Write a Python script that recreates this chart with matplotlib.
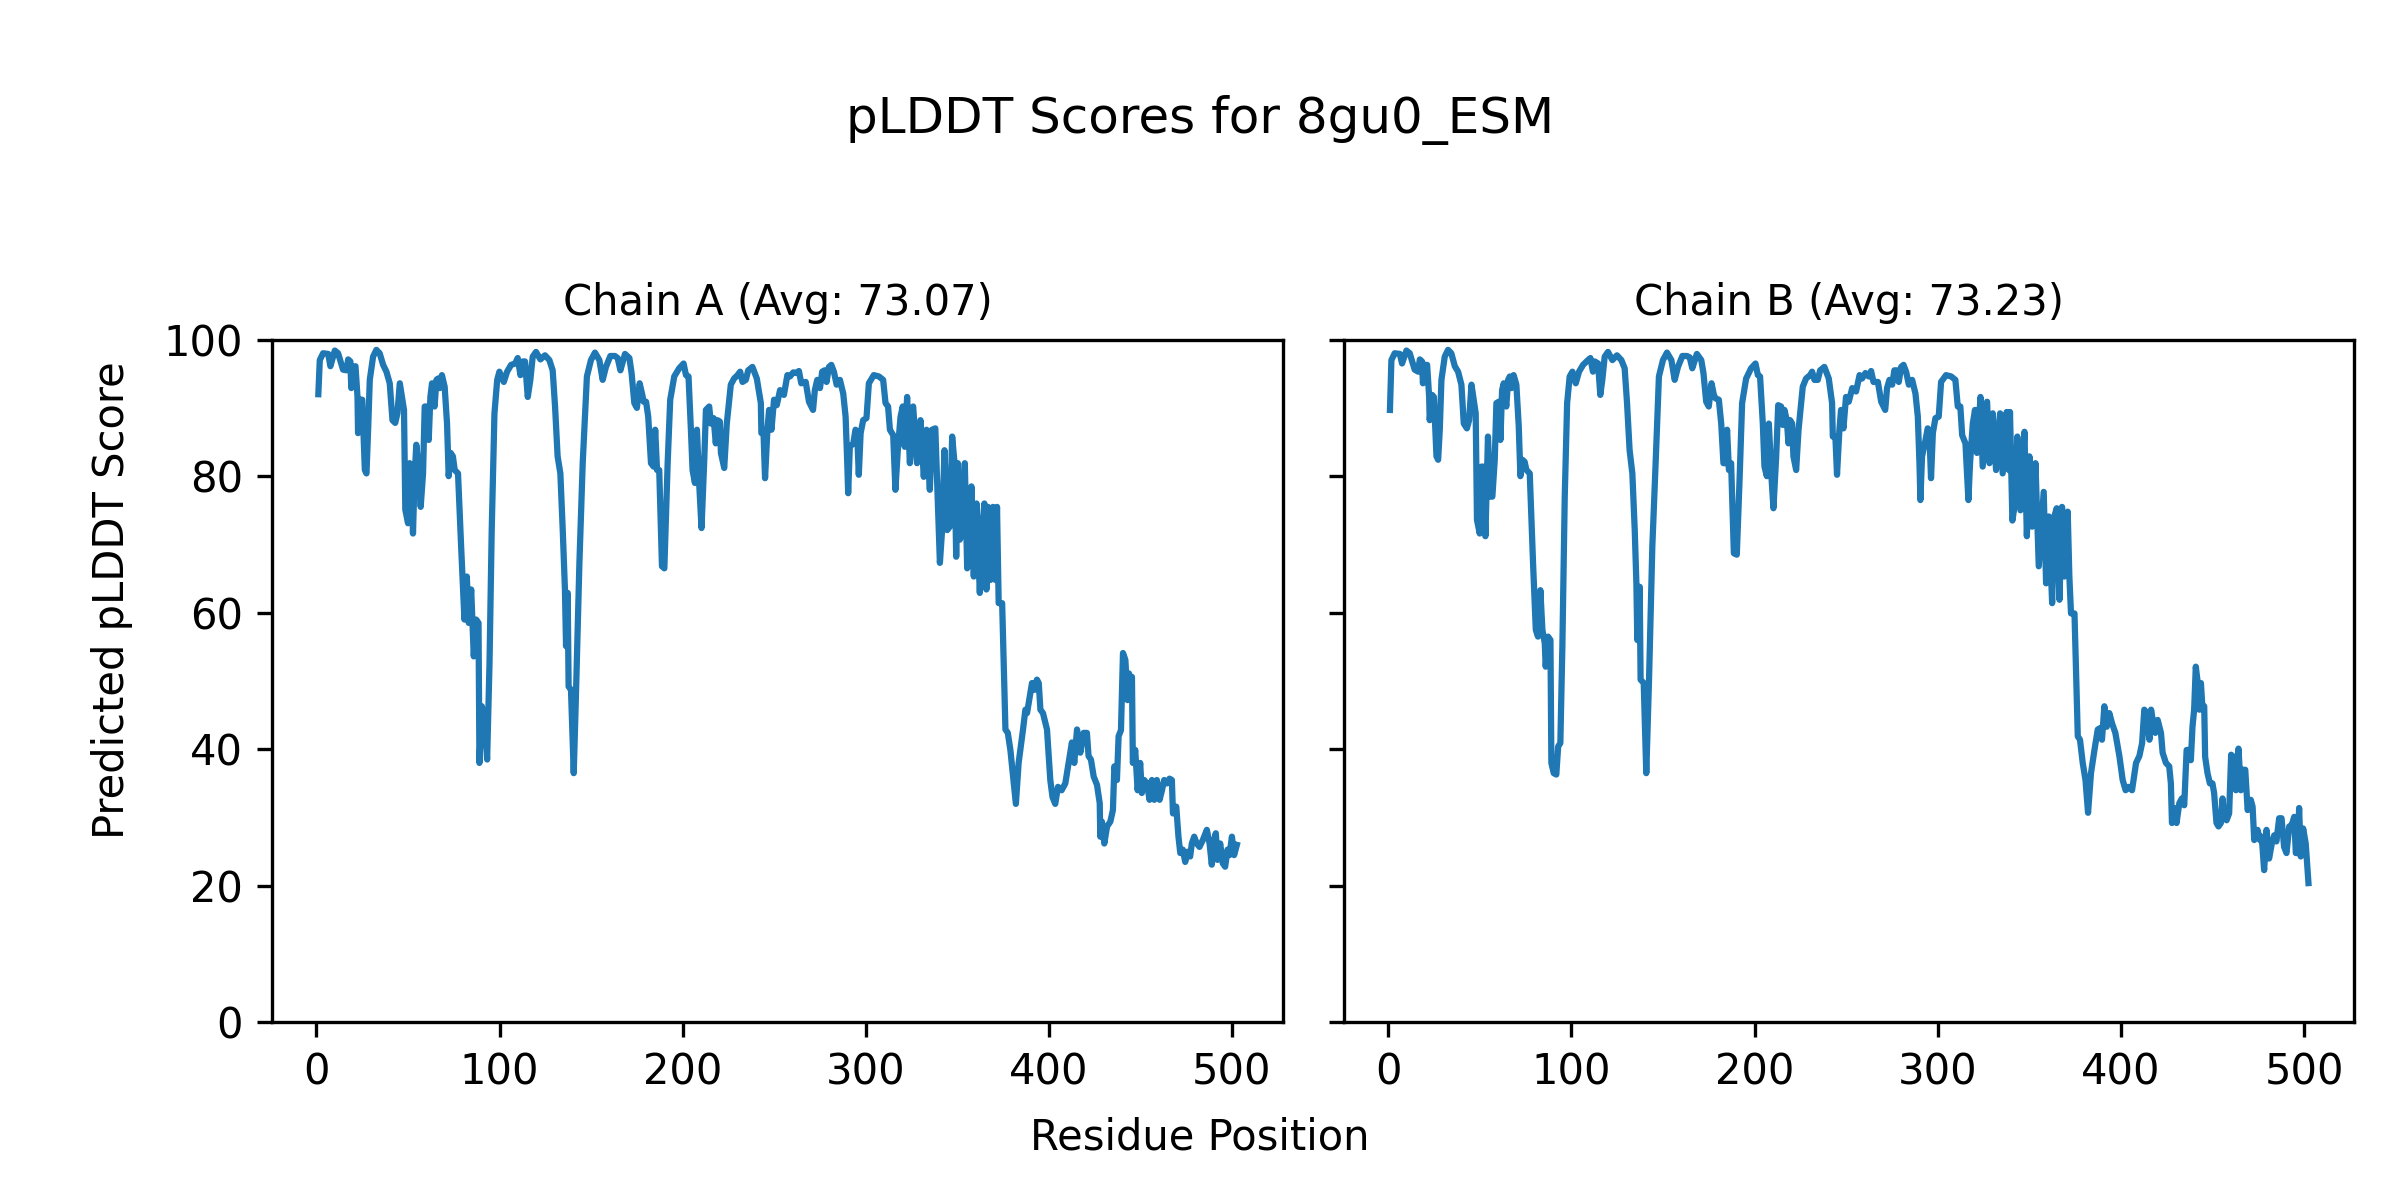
#!/usr/bin/env python3
import matplotlib
matplotlib.use('Agg')
import matplotlib.pyplot as plt

MODEL = '8gu0_ESM'
CHAINS = ['A', 'B']
AVERAGES = [73.07, 73.23]

# values (residue, pLDDT)
res_a = [1, 1.8, 3.6, 6.4, 7.6, 10, 11.8, 14.5, 16.4, 17.3, 18.5, 19, 20, 21.3, 22.4, 22.7, 24, 25,
         26.4, 27.3, 28.2, 29.1, 30.9, 32.7, 34.5, 36.4, 38.2, 40, 41.5, 43, 44.2, 45.5, 47.8, 48.5,
         50, 50.9, 51.8, 52.7, 53.6, 54.5, 55.5, 56.9, 58.2, 59.1, 60.4, 61.3, 62.2, 63.1, 64.5, 65.5,
         66.4, 67.3, 68.5, 70, 71.3, 72.2, 73.3, 74.5, 75.5, 77.3, 79, 80.8, 82.1, 83.2, 84.5, 85.9,
         87.2, 88.5, 89, 90.3, 91.7, 93.2, 94.5, 95.7, 97.2, 98.7, 99.9, 102.3, 104.1, 106.3, 108.5,
         109.9, 111.4, 112.7, 113.9, 115.4, 116.8, 118.1, 119.9, 122.3, 124.8, 127.2, 129, 130.3,
         131.7, 133.2, 134.5, 135.7, 136.3, 137.2, 137.7, 139, 140.5, 141.7, 143.6, 145.4, 147.7,
         149.9, 152.1, 154.5, 156.3, 158.1, 160.5, 163, 164.5, 166, 168.5, 170.9, 172.1, 173.6, 175,
         176.5, 177.8, 178.7, 180, 181.2, 182.7, 184.1, 185, 186, 187.2, 188.7, 190, 191.8, 193.2,
         195.4, 198.1, 200.5, 201.8, 203.2, 204.5, 205.4, 206.7, 207.8, 209.1, 210.3, 211.8, 212.7,
         214.5, 215.4, 216.9, 218.1, 219, 220.3, 220.9, 222.7, 224.1, 226.3, 228.1, 230, 231.4, 232.7,
         234.5, 235.8, 238.1, 240.5, 242.7, 243, 244.1, 245, 246.3, 247.2, 248.5, 249.9, 251.4, 253.2,
         255.3, 257.2, 258.6, 260.4, 262.2, 263.5, 264.8, 267.2, 269, 271.2, 272.2, 273.5, 275, 276.2,
         277.5, 278.6, 279.9, 281.2, 282.6, 284.1, 285.9, 287.7, 289, 289.9, 290.4, 291.3, 293.2,
         294.4, 295.3, 296.2, 297.2, 298.6, 300.4, 301.7, 304.4, 307.2, 309.5, 310.8, 312.2, 313.2,
         315, 316.2, 317.5, 319, 320.2, 321.3, 322.6, 324.1, 325.9, 328, 329.9, 331.7, 333.2, 335,
         336.2, 338, 340.5, 341.7, 343, 344.5, 345.9, 347.2, 348.5, 349.4, 350.3, 351.4, 352.6, 354.1,
         355.4, 356.6, 357.7, 359, 360.5, 362.3, 363.5, 364.8, 365.9, 366.8, 368.1, 369.5, 370.8,
         371.7, 372.6, 374.5, 376.3, 377.6, 379, 380.5, 382, 383.5, 385.9, 387.2, 388.1, 390.8, 392.1,
         393.5, 394.5, 395.4, 396.8, 399, 400.8, 402, 403.5, 405, 407, 409, 410.8, 412.6, 413.9,
         415.4, 417.2, 419, 420.8, 421.7, 423, 424.5, 426.3, 427.8, 428.1, 429, 430.3, 431.8, 433.6,
         435, 435.8, 437.2, 438.1, 439.4, 440.5, 441.8, 443, 443.8, 444.5, 445.4, 445.9, 447.2, 448.5,
         449.9, 450.8, 452.1, 453.6, 455, 456.3, 457.6, 459, 460.5, 461.8, 463, 464.5, 465.9, 467.2,
         467.8, 469.6, 470.8, 471.8, 473.2, 474.5, 475.8, 477.2, 478.1, 479.4, 480.8, 482.3, 484.1,
         486.3, 487.8, 489, 490.3, 491.2, 492.1, 493.6, 495, 496.3, 497.6, 498.7, 500, 501.2, 502.7]
plddt_a = [92, 97, 98, 97.9, 96.1, 98.4, 98, 95.6, 95.5, 97.1, 96.8, 92.9, 96, 96.1, 91.6, 86.3, 91.2, 91.2,
           80.9, 80.4, 86.8, 94.1, 97.5, 98.5, 98, 96.3, 95.3, 93.6, 88.2, 87.8, 89.2, 93.6, 89.7, 75.1,
           73.1, 81.9, 80.9, 71.6, 80, 84.6, 81.9, 75.5, 80.4, 90.2, 90.2, 85.3, 91.6, 93.6, 90.2, 94.1,
           94.3, 92.9, 94.8, 93.1, 87.7, 80, 83.4, 82.9, 80.9, 80.4, 69.7, 59, 65.3, 58.5, 63.4, 53.6,
           59, 58.5, 38, 46.3, 44.8, 38.5, 52.6, 72.1, 89.2, 94.1, 95.3, 93.8, 95.3, 96.3, 96.5,
           97.3, 94.8, 96.8, 96.8, 91.6, 94.1, 97.5, 98.2, 97.1, 97.7, 97, 95.5, 90.2,
           82.9, 80.4, 72.1, 63.4, 55.1, 62.9, 49.2, 48.7, 36.5, 47.8, 67.3, 81.9, 94.6,
           97, 98.1, 97, 94.1, 96, 97.6, 97.6, 97.3, 95.5, 97.9, 97.3, 95.1, 90.7, 90,
           93.6, 92.1, 90.9, 90.9, 88.7, 81.9, 81.4, 86.8, 80.9, 80.9, 66.8, 66.5, 81.9, 91.2,
           94.6, 95.8, 96.5, 94.8, 94.6, 86.8, 80.9, 79, 86.8, 78.5, 72.4, 82.4, 89.7,
           90.2, 87.7, 88.5, 84.8, 88.2, 88, 83.4, 81.2, 87.7, 93.4, 94.3, 94.8, 95.3, 93.8,
           94.1, 95.5, 96, 94.3, 90.7, 86.3, 86.8, 79.7, 86.8, 89.7, 86.8, 91.2, 90.4, 92.6,
           91.9, 94.8, 94.6, 95.2, 95.1, 95.4, 93.6, 93.8, 90.9, 89.7, 92.6, 94.1, 92.9, 95.3,
           95.5, 93.8, 96, 96.3, 95.3, 93.4, 94.1, 92.1, 88.7, 81.9, 77.5, 84.3, 84.8,
           86.8, 86.3, 80.2, 86.3, 88.2, 88.5, 93.6, 94.8, 94.6, 94.1, 90.7, 90.2, 86.8,
           86, 78, 83.8, 88.7, 90.2, 84.3, 91.6, 81.9, 90.2, 81.9, 88.2, 79.9, 86.8, 78,
           86.8, 87, 67.3, 72.1, 83.8, 72.1, 72.6, 85.8, 81.9, 68.2, 81.9, 70.7, 71.6, 81.9,
           66.5, 67.3, 78.5, 65.3, 76, 62.9, 72.1, 76, 63.4, 75.5, 64.8, 75.5, 64.8,
           75.5, 61.4, 61.4, 42.9, 42.4, 39.9, 36, 32, 38, 42.9, 45.8, 45.3, 49.7, 48.7,
           50.2, 49.7, 45.8, 45.3, 42.9, 35.5, 33, 32, 34.5, 34, 35, 38, 41, 38,
           42.9, 39.5, 42.4, 42.4, 39, 38.5, 36, 34.8, 32.1, 27.2, 29.4, 26.2, 28.7, 29.4,
           31.1, 37.5, 35.5, 41.9, 42.8, 54.1, 53.1, 47.2, 51.1, 49.7, 50.6, 38, 39.9, 34,
           38, 33.6, 35.5, 35, 32.6, 35.5, 32.6, 35.5, 32.6, 34, 35.5, 35, 35.7, 35.5,
           30.6, 31.6, 27.2, 24.8, 25.3, 23.5, 25, 24.3, 26.2, 27.2, 26.2, 25.7, 26.7,
           28.2, 26.2, 23.1, 26.7, 27.7, 23.8, 26.2, 23.3, 22.8, 25.3, 24.5, 27.2, 24.5, 26]

res_b = [1, 1.8, 3.6, 6.4, 7.6, 10, 11.8, 14.5, 16.4, 17.3, 18.5, 19, 20, 21.3, 22.4, 22.7, 24, 25,
         26.4, 27.3, 28.2, 29.1, 30.9, 32.7, 34.5, 36.4, 38.2, 40, 41.3, 43, 44.2, 45.5, 47.8, 48.5,
         50, 50.9, 51.8, 53.1, 54.5, 55.8, 56.9, 58.2, 59.1, 60.4, 61.3, 62.2, 63.1, 64.5, 65.5,
         66.4, 67.3, 68.5, 70, 71.3, 72.2, 73.3, 74.5, 75.5, 77.3, 79.1, 80.6, 81.8, 83.1, 84.2, 85.5,
         86, 87.3, 88.6, 89.1, 90.4, 91.8, 92.8, 94, 95.1, 96.4, 97.7, 99.1, 100.6, 102.4, 104.2,
         106.4, 109.1, 110.4, 111.8, 112.8, 114.6, 115.8, 116.9, 118.2, 120, 122.4, 124.9, 127.3,
         129.1, 130.4, 131.8, 133.3, 134.6, 135.5, 136, 137.3, 137.8, 139.5, 140.9, 142.4, 144.2,
         146, 147.8, 150, 152.2, 154.6, 156.4, 158.2, 160.6, 163.1, 164.6, 166, 168.5, 170.9, 172.1,
         173.6, 175, 176.5, 177.8, 178.7, 180.5, 181.8, 183, 184.1, 185, 186, 187.2, 188.7, 190.3,
         191.8, 193.2, 195.4, 198.1, 200.5, 201.8, 203, 204.5, 205.4, 206.7, 207.8, 209.1, 210.3,
         211.8, 212.9, 214.5, 215.4, 216.3, 217.6, 218.5, 219.4, 220.5, 221.2, 222.7, 224, 226.3,
         228.1, 230.3, 231.4, 232.7, 234.5, 235.8, 238.1, 240.5, 242.3, 242.7, 244.1, 245, 246.3,
         247.2, 248.5, 249.9, 251.4, 253.3, 255.4, 257.3, 258.7, 260.5, 262.3, 263.6, 264.9, 267.3,
         269.1, 271.3, 272.3, 273.6, 275.1, 276.3, 277.6, 278.7, 280, 281.3, 282.7, 284.2, 286,
         287.8, 289.1, 290, 290.5, 291.4, 293.3, 294.5, 295.4, 296.3, 297.3, 298.7, 300.5, 301.8,
         304.5, 307.3, 309.6, 310.9, 312.3, 313.3, 315.1, 316.7, 317.6, 319.1, 320.3, 321.4, 323.3,
         324.5, 326.9, 328.2, 330, 331.8, 334, 335.4, 337.6, 338.7, 339.4, 340.7, 342.1, 343.4,
         345.1, 347.3, 348.6, 350, 351.5, 353.3, 355.1, 356.4, 357.8, 359.1, 360.6, 362.4, 363.6,
         364.9, 366.4, 367.8, 369.1, 370.9, 371.8, 372.7, 374.6, 376.4, 377.6, 379.1, 380.6, 382,
         383.6, 385.5, 387.3, 388.6, 389.6, 390.9, 392.2, 393.6, 395.1, 396.9, 399.1, 400.9, 402.5,
         404, 406, 408.2, 410, 411.5, 412.7, 414, 415.5, 416.4, 417.6, 418.7, 420, 421.8, 422.7,
         424.5, 426.3, 427.2, 427.8, 429, 430.3, 431.8, 433.2, 434.5, 435.8, 437.2, 438.1, 439,
         439.9, 440.8, 441.8, 442.7, 443.6, 444.5, 445.4, 445.9, 447.2, 448.5, 449.9, 450.8, 452.1,
         453.2, 454.5, 455.4, 456.3, 457.6, 459, 460.1, 461.4, 462.7, 464.1, 465.4, 466.3, 467.8,
         469.1, 470.8, 471.8, 472.7, 474.5, 475.8, 476.8, 478.1, 479.4, 480.8, 482.3, 483.6, 484.8,
         486.3, 487.6, 489, 490.3, 491.8, 493.2, 494.5, 495.4, 496.3, 497.2, 498.1, 499.4, 500.8,
         502.3]
plddt_b = [89.7, 97, 98, 97.9, 96.5, 98.4, 98, 95.6, 95.3, 97.1, 96.8, 93.6, 96.3, 96.3, 91.6, 88.2, 91.9, 91.6,
           82.9, 82.4, 86.8, 94.1, 97.5, 98.5, 98, 96.1, 95.3, 93.4, 87.7, 87, 88.2, 93.4, 89.2, 73.6,
           71.6, 81.4, 81.4, 71.2, 85.8, 77, 77, 82.4, 90.7, 90.9, 85.3, 92.6, 93.6, 90.2, 94.1,
           94.6, 92.9, 94.8, 93.4, 87.3, 80, 82.4, 82.1, 80.9, 80.4, 67.3, 57.5, 56.5, 63.3, 57.5, 55.5,
           52.1, 56.5, 56, 38, 36.5, 36.3, 40.4, 40.9, 55, 77, 90.7, 94.6, 95.3, 93.6, 95.3,
           96.3, 97, 97.3, 95.3, 96.8, 96.5, 91.9, 94.1, 97.5, 98.2, 97, 97.7, 97,
           95.8, 90.7, 83.8, 80.4, 72.1, 64.3, 56, 63.8, 50.2, 49.7, 36.5, 50.2, 69.7,
           81.9, 94.6, 97, 98.1, 97, 94.1, 96, 97.6, 97.6, 97.4, 95.8, 97.9, 97, 95.1,
           90.9, 90.2, 93.6, 91.9, 91.4, 91.2, 87.7, 81.9, 81.9, 86.8, 80.9, 81.9, 68.7, 68.5,
           79.4, 90.7, 94.3, 95.8, 96.5, 94.8, 94.6, 87.7, 81.4, 80, 87.7, 80.4, 75.3,
           82.9, 90.4, 90.2, 87.5, 89.7, 88.2, 84.8, 88.2, 87.7, 82.9, 80.9, 86.8, 93.1,
           94.3, 94.8, 95.3, 94.1, 94.1, 95.5, 96, 94.3, 90.7, 85.8, 85.8, 80.2, 86.8,
           89.7, 87, 91.6, 90.9, 92.9, 92.4, 94.8, 94.3, 95.1, 94.6, 95.4, 93.8, 93.8,
           90.9, 89.7, 92.9, 94.1, 93.4, 95.5, 95.5, 93.8, 96, 96.3, 95.3, 93.4, 94.1,
           92.1, 88.7, 81.9, 76.5, 82.9, 85.3, 87, 86.3, 79.7, 86.3, 88.5, 88.7, 93.8,
           94.8, 94.6, 94.1, 90.2, 90.2, 86, 84.8, 76.5, 81.9, 87.7, 89.7, 83.4, 91.6,
           81.4, 90.9, 81.9, 89.2, 80.9, 89.2, 80.4, 89.4, 80.9, 89.4, 73.5, 76, 85.8,
           75, 86.5, 71.2, 82.9, 72.6, 81.9, 66.8, 72.1, 77.7, 64.3, 74.1, 61.4, 74.1,
           75.3, 61.9, 75.5, 65.3, 74.8, 65.3, 59.9, 59.9, 41.9, 41.4, 38, 35.5, 30.7,
           36.5, 39.9, 42.9, 43.1, 41.4, 46.3, 43.3, 45.3, 43.8, 42.4, 39, 35.5, 34,
           34.5, 34, 38, 39, 40.9, 45.8, 45.3, 41.4, 45.8, 43.8, 42.4, 44.3, 42.4, 39.5,
           38, 37.5, 35, 29.2, 31.4, 29.2, 32.1, 32.8, 31.8, 39.9, 39.9, 38.4, 43.3,
           45.8, 52.1, 49.9, 45.8, 49.7, 45.8, 46.3, 38.9, 36.5, 35, 35, 33.6, 29.2,
           28.7, 29.2, 32.8, 30.1, 29.6, 30.6, 39.2, 38.9, 34, 40.1, 34, 37, 37,
           31.1, 32.6, 31.6, 26.7, 28.2, 26.7, 27.2, 22.3, 28.2, 24, 26.2, 27.4, 26.5,
           29.9, 29.9, 25.7, 24.8, 28.7, 28.9, 30.1, 24.8, 24.8, 31.4, 24.3, 28.4, 26.2,
           20.4]

fig, axes = plt.subplots(1, 2, figsize=(8, 4), dpi=300, sharey=True)
fig.subplots_adjust(left=0.1135, right=0.981, bottom=0.148, top=0.717, wspace=0.0606)

for ax, chain, avg, res, vals in zip(axes, CHAINS, AVERAGES, [res_a, res_b], [plddt_a, plddt_b]):
    ax.plot(res, vals)
    ax.set_title(f'Chain {chain} (Avg: {avg:.2f})', fontsize=10)
    ax.set_ylim(0, 100)

fig.suptitle(f'pLDDT Scores for {MODEL}', y=0.9, va='center')
fig.supxlabel('Residue Position', y=0.052, va='center', fontsize=10)
fig.supylabel('Predicted pLDDT Score', x=0.0466, ha='center', fontsize=10)
fig.savefig('out.png')
